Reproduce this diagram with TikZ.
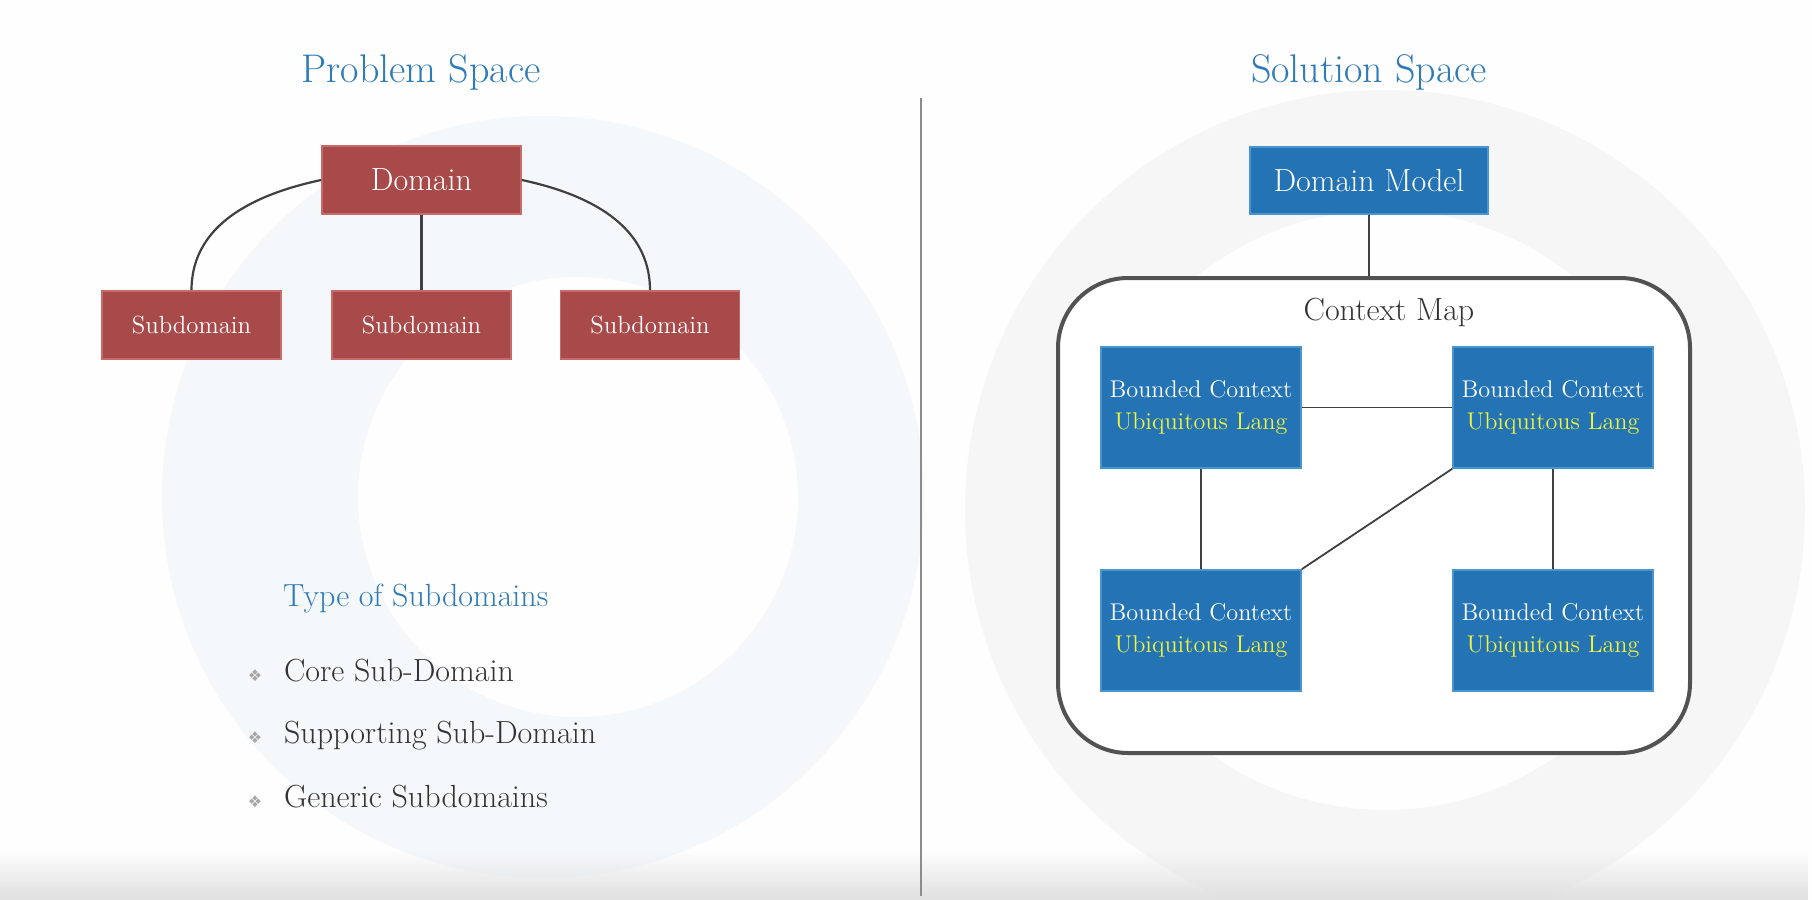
\documentclass[tikz,border=0pt]{standalone}
\usepackage{fontspec}
\usepackage{tikz}
\usetikzlibrary{positioning,calc,fadings}
\newfontfamily\symfont{DejaVu Sans}
\definecolor{cred}{HTML}{A94A4A}
\definecolor{credl}{HTML}{C86A6A}
\definecolor{cblue}{HTML}{2373B5}
\definecolor{cbluel}{HTML}{4A94D0}
\definecolor{ctitle}{HTML}{2E7BB8}
\definecolor{cyel}{HTML}{F0F43A}
\definecolor{ctext}{HTML}{333333}
\definecolor{cmark}{HTML}{F5F8FB}
\definecolor{cmarkg}{HTML}{F6F6F6}
\tikzset{
  redbox/.style={fill=cred,draw=credl,line width=0.8pt,text=white,inner sep=0pt},
  bluebox/.style={fill=cblue,draw=cbluel,line width=0.8pt,text=white,inner sep=0pt,align=center},
  link/.style={draw=black!75,line width=1.1pt},
  big/.style={font=\fontsize{16}{19}\selectfont},
}

\begin{document}
\begin{tikzpicture}[x=0.5pt,y=-0.5pt]
    \useasboundingbox (0,0) rectangle (1812,900);
    \fill[white!99.5!black] (0,0) rectangle (1812,900);
    % ---- faint watermark rings
    \fill[cmark,even odd rule] (543,497) circle (381) (578,497) circle (220);
    \fill[cmarkg,even odd rule] (1385,510) circle (420) (1385,510) circle (300);
    \fill[black!12,path fading=north] (0,850) rectangle (1812,900);
    % divider
    \draw[black!45,line width=0.8pt] (921,98) -- (921,896);
    % ---- left: problem space
    \node[text=ctitle,font=\fontsize{20}{24}\selectfont] (ptitle) at (421,72) {Problem Space};
    \node[redbox,big,minimum width=99.5pt,minimum height=34pt] (dom) at (421.5,180) {Domain};
    \foreach \n/\x in {1/191.5,2/421.5,3/650}
      \node[redbox,font=\fontsize{12.4}{15}\selectfont,minimum width=89.5pt,minimum height=34pt]
        (sub\n) at (\x,325) {Subdomain};
    \draw[link] (dom.west) to[out=192,in=90] (sub1.north);
    \draw[link] (dom.south) -- (sub2.north);
    \draw[link] (dom.east) to[out=-12,in=90] (sub3.north);
    \node[anchor=mid west,text=ctitle,big] (types) at (276,602) {Type of Subdomains};
    \foreach \t/\y in {Core Sub-Domain/674,Supporting Sub-Domain/736,Generic Subdomains/800}{
      \node[anchor=mid west,text=ctext,big] at (277,\y+3) {\t};
      \node[text=black!35,font=\symfont\fontsize{8}{10}\selectfont] at (255,\y+2) {❖};}
    % ---- right: solution space
    \node[text=ctitle,font=\fontsize{20}{24}\selectfont] (stitle) at (1369,72) {Solution Space};
    \node[bluebox,big,minimum width=119pt,minimum height=33.5pt] (dmodel) at (1369,180.5) {Domain Model};
    \node[draw=black!68,fill=white,line width=2pt,rounded corners=35pt,minimum width=316pt,minimum height=237.5pt]
      (cmap) at (1374,515.5) {};
    \node[text=ctext,big] (cmlabel) at (1389,312) {Context Map};
    \draw[link] (dmodel.south) -- (dmodel.south |- cmap.north);
    \foreach \n/\x/\y in {tl/1201/407.5,tr/1553/407.5,bl/1201/630.5,br/1553/630.5}
      \node[bluebox,font=\fontsize{12.1}{16}\selectfont,minimum width=100pt,minimum height=60.5pt]
        (bc\n) at (\x,\y) {Bounded Context\\\textcolor{cyel}{Ubiquitous Lang}};
    \draw[link,line width=0.9pt] (bctl.east) -- (bctr.west);
    \draw[link,line width=0.9pt] (bctl.south) -- (bcbl.north);
    \draw[link,line width=0.9pt] (bctr.south) -- (bcbr.north);
    \draw[link,line width=0.9pt] (bctr.south west) -- (bcbl.north east);
\end{tikzpicture}
\end{document}
